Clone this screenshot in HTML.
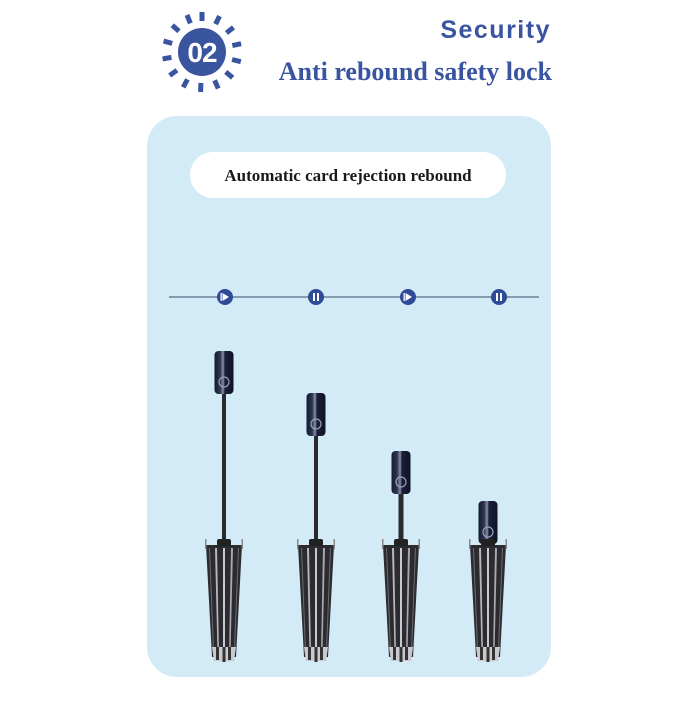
<!DOCTYPE html>
<html><head><meta charset="utf-8"><style>
html,body{margin:0;padding:0;background:#fff;}
body{width:700px;height:700px;overflow:hidden;}
</style></head><body>
<svg width="700" height="700" viewBox="0 0 700 700" xmlns="http://www.w3.org/2000/svg">
<defs>
<linearGradient id="hg" x1="0" x2="1">
<stop offset="0" stop-color="#141a30"/><stop offset="0.3" stop-color="#2d3550"/><stop offset="0.45" stop-color="#8a90a8"/><stop offset="0.55" stop-color="#1a2038"/><stop offset="1" stop-color="#0e1226"/>
</linearGradient>
<g id="canopy">
<polygon points="-18,0 18,0 12,112 -12,112" fill="#2b2b30"/>
<polygon points="-9,3 -7,3 -5,108 -6.5,108" fill="#b8b8be"/>
<polygon points="7,3 9,3 6.5,108 5,108" fill="#a8a8b0"/>
<polygon points="-1,3 1,3 1,110 -1,110" fill="#c8c8ce"/>
<polygon points="-15,3 -14,3 -10,106 -11,106" fill="#6a6a72"/>
<polygon points="14,3 15,3 11,106 10,106" fill="#6a6a72"/>
<rect x="-19" y="-6" width="1.5" height="10" fill="#888"/>
<rect x="17.5" y="-6" width="1.5" height="10" fill="#888"/>
<rect x="-7" y="-6" width="14" height="7" rx="2" fill="#222"/>
<polygon points="-12,102 12,102 10,116 -10,116" fill="#c9c9cf"/>
<rect x="-8" y="102" width="3" height="13" fill="#333"/>
<rect x="4" y="102" width="3" height="13" fill="#333"/>
<rect x="-1.5" y="102" width="3" height="15" fill="#333"/>
</g>
<g id="handle">
<rect x="-9.5" y="0" width="19" height="43" rx="4" fill="url(#hg)"/>
<circle cx="0" cy="31" r="5" fill="none" stroke="#9aa0b8" stroke-width="1.2"/>
</g>
<g id="pl"><circle r="8" fill="#2f4a96"/><polygon points="-2.5,-4 -2.5,4 4,0" fill="#fff"/><rect x="-4.5" y="-4" width="1.3" height="8" fill="#fff"/></g>
<g id="pa"><circle r="8" fill="#2f4a96"/><rect x="-3" y="-4" width="2" height="8" fill="#fff"/><rect x="1" y="-4" width="2" height="8" fill="#fff"/></g>
</defs>

<g transform="translate(202,52)" fill="#3a55a0">
<circle r="24"/>
<rect x="-2.5" y="-40" width="5" height="9" transform="rotate(0)"/>
<rect x="-2.5" y="-40" width="5" height="9" transform="rotate(26)"/>
<rect x="-2.5" y="-40" width="5" height="9" transform="rotate(52)"/>
<rect x="-2.5" y="-40" width="5" height="9" transform="rotate(78)"/>
<rect x="-2.5" y="-40" width="5" height="9" transform="rotate(104)"/>
<rect x="-2.5" y="-40" width="5" height="9" transform="rotate(130)"/>
<rect x="-2.5" y="-40" width="5" height="9" transform="rotate(156)"/>
<rect x="-2.5" y="-40" width="5" height="9" transform="rotate(182)"/>
<rect x="-2.5" y="-40" width="5" height="9" transform="rotate(208)"/>
<rect x="-2.5" y="-40" width="5" height="9" transform="rotate(234)"/>
<rect x="-2.5" y="-40" width="5" height="9" transform="rotate(260)"/>
<rect x="-2.5" y="-40" width="5" height="9" transform="rotate(286)"/>
<rect x="-2.5" y="-40" width="5" height="9" transform="rotate(312)"/>
<rect x="-2.5" y="-40" width="5" height="9" transform="rotate(338)"/>
<text x="0" y="10" text-anchor="middle" font-family="Liberation Sans, sans-serif" font-weight="bold" font-size="28" fill="#fff" letter-spacing="-1">02</text>
</g>
<text x="551" y="38" text-anchor="end" font-family="Liberation Sans, sans-serif" font-weight="bold" font-size="25" fill="#3a55a0" letter-spacing="1.5">Security</text>
<text x="552" y="80" text-anchor="end" font-family="Liberation Serif, serif" font-weight="bold" font-size="26" fill="#3a55a0">Anti rebound safety lock</text>

<rect x="147" y="116" width="404" height="561" rx="30" fill="#d3ebf7"/>
<rect x="190" y="152" width="316" height="46" rx="23" fill="#fff"/>
<text x="348" y="181" text-anchor="middle" font-family="Liberation Serif, serif" font-weight="bold" font-size="17" fill="#1a1a1a">Automatic card rejection rebound</text>

<line x1="169" y1="297" x2="539" y2="297" stroke="#6f7f95" stroke-width="1.5"/>
<use href="#pl" x="225" y="297"/>
<use href="#pa" x="316" y="297"/>
<use href="#pl" x="408" y="297"/>
<use href="#pa" x="499" y="297"/>

<g transform="translate(224,0)">
<rect x="-2" y="392" width="4" height="152" fill="#2a2a2e"/>
<use href="#handle" y="351"/>
<use href="#canopy" y="545"/>
</g>
<g transform="translate(316,0)">
<rect x="-2" y="433" width="4" height="110" fill="#2a2a2e"/>
<use href="#handle" y="393"/>
<use href="#canopy" y="545"/>
</g>
<g transform="translate(401,0)">
<rect x="-2.5" y="490" width="5" height="55" fill="#2a2a2e"/>
<use href="#handle" y="451"/>
<use href="#canopy" y="545"/>
</g>
<g transform="translate(488,0)">
<use href="#handle" y="501"/>
<use href="#canopy" y="545"/>
</g>
</svg>
</body></html>
